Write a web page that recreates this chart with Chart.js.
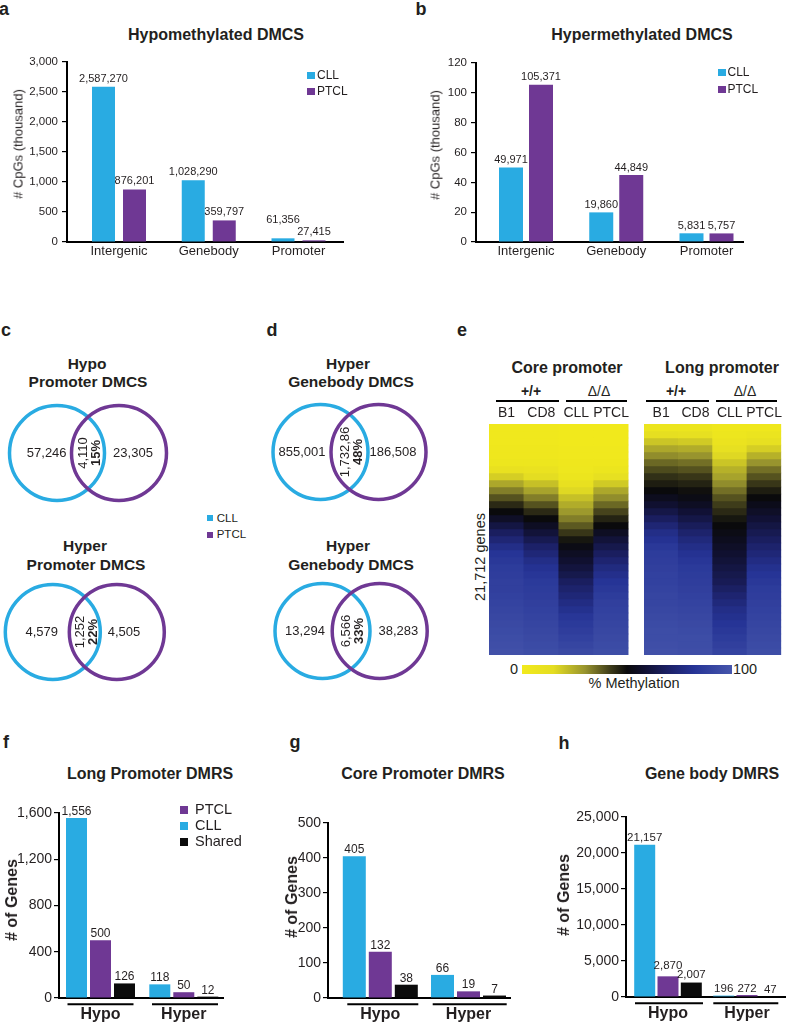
<!DOCTYPE html>
<html><head><meta charset="utf-8">
<script src="https://cdn.jsdelivr.net/npm/chart.js@4.4.1/dist/chart.umd.min.js"></script>
<style>
html,body{margin:0;padding:0;background:#fff;}
body{width:787px;height:1025px;position:relative;overflow:hidden;font-family:'Liberation Sans',Arial,Helvetica,sans-serif;color:#231f20;}
.box{position:absolute;}
.box canvas{display:block;}
</style></head><body>
<script>
// ---------------- DATA ----------------
const regionCategories = ['Intergenic', 'Genebody', 'Promoter'];
const hypoCLL  = [2587270, 1028290, 61356];
const hypoPTCL = [876201, 359797, 27415];
const hyperCLL  = [49971, 19860, 5831];
const hyperPTCL = [105371, 44849, 5757];

const vennSets = ['CLL', 'PTCL'];
// [CLL only, shared, PTCL only], shared percentage
const vennHypoPromoter = ['57,246', '4,110', '23,305'];
const vennHypoPromoterPct = '15%';
const vennHyperPromoter = ['4,579', '1,252', '4,505'];
const vennHyperPromoterPct = '22%';
const vennGenebodyTop = ['855,001', '1,732,86', '186,508'];
const vennGenebodyTopPct = '48%';
const vennGenebodyBottom = ['13,294', '6,566', '38,283'];
const vennGenebodyBottomPct = '33%';

const heatSamples = ['B1', 'CD8', 'CLL', 'PTCL'];
// % methylation per row band (top -> bottom), 21,712 genes sorted
const coreB1   = [2,2,2,3,3,5,10,18,26,33,39,45,50,56,62,68,73,78,82,84,86,87,88,88,89,90,91,92,93,94,95,96,97];
const coreCD8  = [2,2,2,3,3,5,9,15,21,27,33,39,45,50,55,60,65,70,74,78,81,83,85,86,87,88,89,90,91,92,93,94,95];
const coreCLL  = [1,1,1,2,2,3,4,6,11,16,21,25,29,33,38,43,48,52,55,58,61,64,68,71,74,77,80,83,85,87,89,91,93];
const corePTCL = [1,1,1,2,2,3,6,12,19,26,31,36,41,46,50,55,60,64,68,72,76,79,82,84,86,88,89,90,91,92,93,94,95];
const longB1   = [6,13,20,26,31,36,40,44,47,50,54,58,63,68,73,78,81,84,86,87,88,89,89,90,91,91,92,93,94,95,95,96,97];
const longCD8  = [6,12,19,25,30,35,39,43,46,49,52,55,59,63,67,71,75,78,81,83,85,86,87,88,89,90,91,92,93,94,95,95,96];
const longCLL  = [3,5,8,12,16,20,24,27,31,35,39,42,45,48,50,52,54,56,58,60,62,64,66,69,72,75,78,80,82,84,86,88,90];
const longPTCL = [3,7,12,18,24,30,35,39,43,47,50,53,56,59,62,65,68,71,74,77,80,82,84,86,87,88,89,90,91,92,93,94,95];

const dmrGroups = ['Hypo', 'Hyper'];
const longPromCLL = [1556, 118], longPromPTCL = [500, 50], longPromShared = [126, 12];
const corePromCLL = [405, 66],   corePromPTCL = [132, 19], corePromShared = [38, 7];
const bodyCLL = [21157, 196],    bodyPTCL = [2870, 272],   bodyShared = [2007, 47];

// ---------------- STYLE ----------------
const FONT = "'Liberation Sans', Arial, Helvetica, sans-serif";
const TEXT = '#231f20';
const CLL_COLOR = '#29abe2', PTCL_COLOR = '#6f3894', SHARED_COLOR = '#0b0b0b';
const cmapStops = [[0,[242,234,28]],[15,[228,221,34]],[30,[152,148,46]],[42,[62,60,26]],[50,[10,10,12]],[58,[16,16,48]],[70,[28,33,104]],[82,[38,52,150]],[100,[70,86,172]]];
function cmap(v){
  for (let k = 1; k < cmapStops.length; k++){
    const [v0,c0] = cmapStops[k-1], [v1,c1] = cmapStops[k];
    if (v <= v1){ const t=(v-v0)/(v1-v0); return 'rgb(' + c0.map((c,j)=>Math.round(c+(c1[j]-c)*t)).join(',') + ')'; }
  }
  const c = cmapStops[cmapStops.length-1][1]; return 'rgb(' + c.join(',') + ')';
}
function fmt(v){ return Number(v).toLocaleString('en-US'); }

// ---------------- HELPERS ----------------
function addCanvas(l,t,w,h){
  const d=document.createElement('div'); d.className='box';
  Object.assign(d.style,{left:l+'px',top:t+'px',width:w+'px',height:h+'px'});
  const c=document.createElement('canvas'); c.width=w; c.height=h; c.style.width=w+'px'; c.style.height=h+'px';
  d.appendChild(c); document.body.appendChild(d); return c;
}
function txt(s,x,base,size,o={}){
  const d=document.createElement('div'); d.textContent=s;
  d.style.cssText='position:absolute;white-space:nowrap;line-height:1;color:'+TEXT+';font-size:'+size+'px;font-weight:'+(o.bold?'bold':'normal')+
    ';left:'+x+'px;top:'+(base-0.8465*size)+'px;transform:translateX('+(o.left?0:-50)+'%);';
  document.body.appendChild(d);
}
function rtxt(s,x,y,size,o={}){
  const d=document.createElement('div'); d.textContent=s;
  d.style.cssText='position:absolute;white-space:nowrap;line-height:1;color:'+TEXT+';font-size:'+size+'px;font-weight:'+(o.bold?'bold':'normal')+
    ';left:'+x+'px;top:'+y+'px;transform:translate(-50%,-50%) rotate(-90deg);';
  document.body.appendChild(d);
}
function rect(x,y,w,h,color,extra){
  const d=document.createElement('div');
  d.style.cssText='position:absolute;left:'+x+'px;top:'+y+'px;width:'+w+'px;height:'+h+'px;background:'+color+';'+(extra||'');
  document.body.appendChild(d);
}

const valueLabelPlugin = {
  id:'valueLabels',
  afterDatasetsDraw(chart, args, o){
    const ctx=chart.ctx; ctx.save();
    ctx.font=o.font; ctx.fillStyle=TEXT; ctx.textAlign='center'; ctx.textBaseline='alphabetic';
    chart.data.datasets.forEach((ds,di)=>{
      chart.getDatasetMeta(di).data.forEach((bar,i)=>{
        let dy=o.gap;
        (o.raise||[]).forEach(r=>{ if(r[0]===di&&r[1]===i) dy+=r[2]; });
        ctx.fillText(fmt(ds.data[i].v), bar.x, bar.y-dy);
      });
    });
    ctx.restore();
  }
};
const groupLinePlugin = {
  id:'groupLines',
  afterDraw(chart, args, o){
    if(!o.enabled) return;
    const x=chart.scales.x, ctx=chart.ctx; ctx.save();
    ctx.strokeStyle='#000'; ctx.lineWidth=2;
    const y=chart.chartArea.bottom+o.offset;
    x.ticks.forEach((t,k)=>{
      const px=x.getPixelForValue(t.value)+o.shift[k];
      ctx.beginPath(); ctx.moveTo(px-o.half[k],y); ctx.lineTo(px+o.half[k],y); ctx.stroke();
    });
    ctx.restore();
  }
};

function barChart(o){
  const n=o.cats.length;
  const s=(o.c[1]-o.c[0])/(n-1);
  const xmin=1-(o.c[0]-o.L)/s, xmax=n+(o.R-o.c[1])/s;
  const chunk=o.barW+o.gap;
  const catPct=o.series.length*chunk/s, barPct=o.barW/chunk;
  const pt=14, pr=2;
  const yW=o.L-o.cl;
  const cv=addCanvas(o.cl, o.T-pt, o.R-o.cl+pr, o.B-o.T+pt+o.xH);
  rtxt(o.yTitle, o.titleX, o.titleY, o.yTitleSize, {bold:o.yTitleBold});
  new Chart(cv,{
    type:'bar',
    data:{datasets:o.series.map(se=>({label:se.label,
      data:se.vals.map((v,i)=>({x:i+1,y:v/(o.div||1),v})),
      backgroundColor:se.color,borderWidth:0,categoryPercentage:catPct,barPercentage:barPct}))},
    options:{
      responsive:false,animation:false,devicePixelRatio:1,
      layout:{autoPadding:false,padding:{left:0,top:pt,right:pr,bottom:0}},
      plugins:{legend:{display:false},tooltip:{enabled:false},
        valueLabels:{font:o.labelSize+'px '+FONT,gap:o.labelGap,raise:o.raise||[]},
        groupLines:o.groupLines||{enabled:false}},
      scales:{
        x:{type:'linear',min:xmin,max:xmax,offset:false,
          ticks:{stepSize:1,includeBounds:false,autoSkip:false,maxRotation:0,minRotation:0,
            callback:v=>(Number.isInteger(v)&&v>=1&&v<=n)?o.cats[v-1]:'',
            font:{family:FONT,size:o.xSize,weight:o.xBold?'bold':'normal'},color:TEXT,padding:o.xPad},
          grid:{display:false,drawTicks:false},border:{display:true,color:'#000',width:2},
          afterFit:sc=>{sc.height=o.xH;}},
        y:{min:0,max:o.yMax,
          ticks:{stepSize:o.yStep,callback:v=>fmt(v),font:{family:FONT,size:o.tickSize},color:TEXT,padding:o.tickPad},
          grid:{display:true,drawOnChartArea:false,drawTicks:true,tickLength:5,color:'#000',lineWidth:1.2},
          border:{display:true,color:'#000',width:2},
          title:{display:false},
          afterFit:sc=>{sc.width=yW;}}
      }
    },
    plugins:[valueLabelPlugin,groupLinePlugin]
  });
}

const vennLabelPlugin = {
  id:'vennLabels',
  afterDatasetsDraw(chart,args,o){
    const ctx=chart.ctx, xs=chart.scales.x, ys=chart.scales.y;
    const x0=xs.getPixelForValue(0), x1=xs.getPixelForValue(1), y=ys.getPixelForValue(0);
    ctx.save(); ctx.fillStyle=TEXT; ctx.textBaseline='middle'; ctx.textAlign='center';
    ctx.font='13px '+FONT;
    ctx.fillText(o.labels[0], x0+o.lOff, y);
    ctx.fillText(o.labels[2], x1+o.rOff, y);
    ctx.translate((x0+x1)/2+2, y); ctx.rotate(-Math.PI/2);
    ctx.fillText(o.labels[1], 0, -6.5);
    ctx.font='bold 13px '+FONT;
    ctx.fillText(o.pct, 0, 6.5);
    ctx.restore();
  }
};
function venn(o){
  const w=180,h=112;
  const cv=addCanvas(o.cl, o.cy-h/2, w, h);
  const unit=o.px1-o.px0;
  const xmin=-(o.px0-o.cl)/unit, xmax=xmin+w/unit;
  new Chart(cv,{
    type:'scatter',
    data:{datasets:[{data:vennSets.map((s,i)=>({x:i,y:0})),pointRadius:47.5,pointHoverRadius:47.5,pointBorderWidth:3.5,
      pointBackgroundColor:'rgba(0,0,0,0)',pointBorderColor:[CLL_COLOR,PTCL_COLOR],clip:false}]},
    options:{responsive:false,animation:false,devicePixelRatio:1,layout:{autoPadding:false,padding:0},
      plugins:{legend:{display:false},tooltip:{enabled:false},
        vennLabels:{labels:o.labels,pct:o.pct,lOff:o.lOff,rOff:o.rOff}},
      scales:{x:{display:false,min:xmin,max:xmax},y:{display:false,min:-1,max:1}}},
    plugins:[vennLabelPlugin]
  });
}

function heatmap(left,width,cols){
  const top=402,h=253,nRows=cols[0].length;
  const cv=addCanvas(left,top,width,h);
  const datasets=[];
  for(let r=0;r<nRows;r++) datasets.push({data:heatSamples.map(()=>1),backgroundColor:cols.map(c=>cmap(c[r])),
    borderWidth:0,barPercentage:1,categoryPercentage:1});
  new Chart(cv,{type:'bar',data:{labels:heatSamples,datasets},
    options:{responsive:false,animation:false,devicePixelRatio:1,layout:{autoPadding:false,padding:0},
      plugins:{legend:{display:false},tooltip:{enabled:false}},
      scales:{
        x:{position:'top',stacked:true,grid:{display:false,drawTicks:false},border:{display:false},
          ticks:{font:{family:FONT,size:14,lineHeight:1.55},color:TEXT,padding:0,maxRotation:0,autoSkip:false},
          afterFit:sc=>{sc.height=22;}},
        y:{display:false,stacked:true,reverse:true,min:0,max:nRows}
      }}});
}

// ---------------- PANEL LETTERS ----------------
[['a',4,15],['b',421,15],['c',6,336],['d',272,336],['e',462,336],['f',6,748],['g',295,748],['h',564,749]]
  .forEach(([s,x,b])=>txt(s,x,b,18,{bold:true}));

// ---------------- PANEL a / b ----------------
txt('Hypomethylated DMCS',216,40.7,16,{bold:true});
txt('Hypermethylated DMCS',642,40.7,16,{bold:true});
barChart({L:67,R:343,T:62,B:242,cl:5,xH:22,c:[119,298.5],barW:23,gap:8,cats:regionCategories,div:1000,
  series:[{label:'CLL',vals:hypoCLL,color:CLL_COLOR},{label:'PTCL',vals:hypoPTCL,color:PTCL_COLOR}],
  yMax:3000,yStep:500,yTitle:'# CpGs (thousand)',yTitleSize:13,titleX:18,titleY:144,tickSize:11.5,tickPad:4,
  xSize:13,xPad:2,labelSize:11,labelGap:5,raise:[[0,2,10]]});
barChart({L:476,R:743,T:63,B:242,cl:420,xH:22,c:[526,706.5],barW:24,gap:6,cats:regionCategories,div:1000,
  series:[{label:'CLL',vals:hyperCLL,color:CLL_COLOR},{label:'PTCL',vals:hyperPTCL,color:PTCL_COLOR}],
  yMax:120,yStep:20,yTitle:'# CpGs (thousand)',yTitleSize:13,titleX:435,titleY:145,tickSize:11.5,tickPad:4,
  xSize:13,xPad:2,labelSize:11,labelGap:4.5});
// legends a/b
rect(307,71.5,7.5,7.5,CLL_COLOR); txt('CLL',317,79,12,{left:true});
rect(307,87.5,7.5,7.5,PTCL_COLOR); txt('PTCL',317,95,12,{left:true});
rect(718,68.5,7.5,7.5,CLL_COLOR); txt('CLL',727.5,75.7,12,{left:true});
rect(718,85.5,7.5,7.5,PTCL_COLOR); txt('PTCL',727.5,92.7,12,{left:true});

// ---------------- PANEL c / d (Venn) ----------------
txt('Hypo',87,369,15.5,{bold:true}); txt('Promoter DMCS',88,387.5,15.5,{bold:true});
txt('Hyper',85,550.7,15.5,{bold:true}); txt('Promoter DMCS',86,570,15.5,{bold:true});
txt('Hyper',348,369,15.5,{bold:true}); txt('Genebody DMCS',351,387.5,15.5,{bold:true});
txt('Hyper',348,550.7,15.5,{bold:true}); txt('Genebody DMCS',351,570,15.5,{bold:true});
venn({cl:0,cy:452.5,px0:57,px1:119,labels:vennHypoPromoter,pct:vennHypoPromoterPct,lOff:-10.3,rOff:14});
venn({cl:0,cy:631.7,px0:52.8,px1:116.8,labels:vennHyperPromoter,pct:vennHyperPromoterPct,lOff:-11.1,rOff:7.2});
venn({cl:260,cy:452,px0:320.5,px1:378.5,labels:vennGenebodyTop,pct:vennGenebodyTopPct,lOff:-18.5,rOff:14.5});
venn({cl:260,cy:630.5,px0:322.5,px1:379.7,labels:vennGenebodyBottom,pct:vennGenebodyBottomPct,lOff:-17.5,rOff:18.6});
rect(207.3,515,6,6,CLL_COLOR); txt('CLL',216.7,522.3,11.5,{left:true});
rect(207.3,532,6,6,PTCL_COLOR); txt('PTCL',216.7,538.7,11.5,{left:true});

// ---------------- PANEL e (heatmap) ----------------
txt('Core promoter',567,374,16,{bold:true});
txt('Long promoter',722,374,16,{bold:true});
txt('+/+',531,396,14,{bold:true}); txt('\u0394/\u0394',599,396,14);
txt('+/+',676,396,14,{bold:true}); txt('\u0394/\u0394',745,396,14);
rect(496,399.5,63,2,'#000'); rect(566,399.5,61,2,'#000');
rect(646,399.5,63,2,'#000'); rect(716,399.5,61,2,'#000');
heatmap(489,140,[coreB1,coreCD8,coreCLL,corePTCL]);
heatmap(644,138,[longB1,longCD8,longCLL,longPTCL]);
rtxt('21,712 genes',480,557,14.5);
rect(522,665,210,8.5,'linear-gradient(to right,'+cmapStops.map(([v,c])=>'rgb('+c.join(',')+') '+v+'%').join(',')+')');
txt('0',514,674,14.5); txt('100',745,674,14.5);
txt('% Methylation',634,688.3,14.5);

// ---------------- PANEL f / g / h ----------------
txt('Long Promoter DMRS',150,780,16,{bold:true});
txt('Core Promoter DMRS',423,780,16,{bold:true});
txt('Gene body DMRS',712,780,16,{bold:true});
const dmrSeries=(a,b,c)=>[{label:'CLL',vals:a,color:CLL_COLOR},{label:'PTCL',vals:b,color:PTCL_COLOR},{label:'Shared',vals:c,color:SHARED_COLOR}];
barChart({L:59,R:223,T:813,B:998,cl:0,xH:30,c:[100.5,183.8],barW:21,gap:3,cats:dmrGroups,
  series:dmrSeries(longPromCLL,longPromPTCL,longPromShared),
  yMax:1600,yStep:400,yTitle:'# of Genes',yTitleSize:16,yTitleBold:true,titleX:12,titleY:900,tickSize:14,tickPad:2,
  xSize:16,xBold:true,xPad:7.4,labelSize:12,labelGap:3,
  groupLines:{enabled:true,offset:6.3,half:[33,33],shift:[0,1.2]}});
barChart({L:328,R:510,T:823,B:998,cl:278,xH:30,c:[380.3,468.5],barW:23,gap:3,cats:dmrGroups,
  series:dmrSeries(corePromCLL,corePromPTCL,corePromShared),
  yMax:500,yStep:100,yTitle:'# of Genes',yTitleSize:16,yTitleBold:true,titleX:292,titleY:897,tickSize:14,tickPad:2,
  xSize:16,xBold:true,xPad:7.4,labelSize:12,labelGap:3,
  groupLines:{enabled:true,offset:6.3,half:[35.5,37],shift:[2.5,1.2]}});
barChart({L:626,R:785,T:817,B:997,cl:550,xH:30,c:[668,747],barW:21,gap:2.3,cats:dmrGroups,
  series:dmrSeries(bodyCLL,bodyPTCL,bodyShared),
  yMax:25000,yStep:5000,yTitle:'# of Genes',yTitleSize:16,yTitleBold:true,titleX:564,titleY:895,tickSize:14,tickPad:2,
  xSize:16,xBold:true,xPad:7.4,labelSize:11.5,labelGap:3.5,raise:[[1,0,4],[2,0,1]],
  groupLines:{enabled:true,offset:6.3,half:[34,32.5],shift:[1,-1.2]}});
// legend f
rect(180,806,8.3,8,PTCL_COLOR); txt('PTCL',195,814,14.5,{left:true});
rect(180,822,8.3,8,CLL_COLOR); txt('CLL',195,830,14.5,{left:true});
rect(180,838,8.3,8,SHARED_COLOR); txt('Shared',195,846,14.5,{left:true});
</script></body></html>
